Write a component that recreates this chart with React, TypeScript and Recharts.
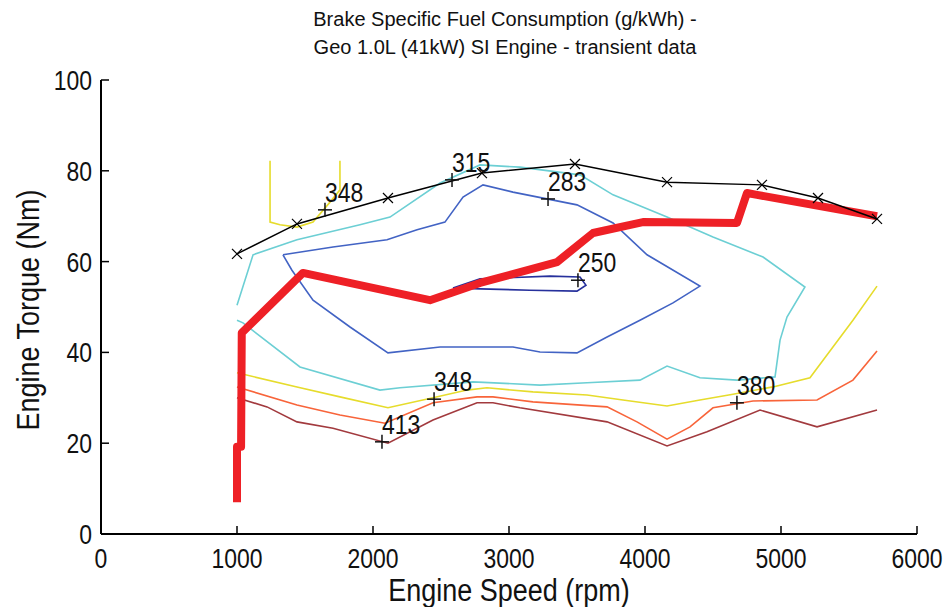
import { ComposedChart, Line, Scatter, XAxis, YAxis } from "recharts";

const FONT = '"Liberation Sans", Arial, sans-serif';
// the fonts here are condensed, so text is squeezed horizontally
const SQUEEZE = 0.82;

const speedTicks = [0, 1000, 2000, 3000, 4000, 5000, 6000];
const torqueTicks = [0, 20, 40, 60, 80, 100];

// BSFC iso-lines, points are [rpm, Nm]
const bsfc250: [number, number][] = [
  [2588, 54.2], [2787, 56.2], [3301, 56.8], [3522, 56.6], [3566, 54.8],
  [3500, 53.5], [3154, 53.7], [2787, 54.0], [2588, 54.2],
];

const bsfc283: [number, number][] = [
  [1338, 61.5], [1706, 63.2], [2103, 64.8], [2324, 67.0], [2529, 68.7],
  [2662, 74.2], [2809, 76.9], [3029, 75.3], [3500, 72.5], [3765, 68.5],
  [4015, 61.5], [4404, 54.6], [4206, 50.9], [3963, 47.1], [3721, 43.4],
  [3500, 39.9], [3228, 40.1], [3029, 41.2], [2493, 41.2], [2110, 39.9],
  [1831, 45.6], [1559, 51.5], [1404, 58.1], [1338, 61.5],
];

const bsfc315: [number, number][] = [
  [1000, 50.4], [1118, 61.5], [1441, 64.8], [1904, 68.1], [2125, 69.8],
  [2493, 77.3], [2787, 81.3], [3081, 80.8], [3522, 79.1], [3765, 74.7],
  [4162, 69.8], [4500, 65.4], [4868, 61.0], [5176, 54.4], [5044, 47.8],
  [4993, 42.7], [4956, 34.6], [4676, 33.9], [4404, 34.4], [4162, 37.0],
  [3963, 33.9], [3574, 33.3], [3228, 32.8], [2735, 33.5], [2199, 32.2],
  [2051, 31.7], [1463, 36.8], [1044, 46.5], [1000, 47.1],
];

const bsfc348Top: [number, number][] = [
  [1243, 82.2], [1243, 68.7], [1316, 68.1], [1441, 67.6], [1559, 68.7],
  [1684, 73.1], [1757, 75.8], [1757, 82.2],
];

const bsfc348: [number, number][] = [
  [1000, 35.5], [1441, 32.4], [1757, 30.2], [2110, 27.8], [2441, 30.0],
  [2691, 31.7], [2838, 32.2], [3176, 31.3], [3574, 30.6], [3838, 29.5],
  [4162, 28.2], [4404, 29.5], [4647, 30.8], [4941, 32.4], [5213, 34.4],
  [5382, 41.2], [5529, 47.1], [5706, 54.6],
];

const bsfc380: [number, number][] = [
  [1000, 32.4], [1441, 28.4], [1757, 26.2], [2088, 24.4], [2441, 28.9],
  [2765, 30.2], [2882, 30.2], [3176, 29.1], [3721, 28.0], [3941, 24.7],
  [4162, 20.9], [4331, 23.6], [4500, 27.8], [4794, 29.3], [5265, 29.5],
  [5529, 33.9], [5706, 40.3],
];

const bsfc413: [number, number][] = [
  [1000, 30.0], [1221, 28.0], [1441, 24.7], [1706, 23.3], [2110, 20.0],
  [2441, 25.1], [2765, 28.9], [2882, 28.9], [3081, 27.8], [3721, 24.7],
  [4162, 19.4], [4456, 22.5], [4846, 27.3], [5265, 23.6], [5706, 27.3],
];

// wide-open throttle torque
const maxTorque: [number, number][] = [
  [1000, 61.7], [1441, 68.3], [2110, 74.0], [2801, 79.5], [3485, 81.5],
  [4162, 77.5], [4860, 76.9], [5272, 74.0], [5706, 69.4],
];

// transient operating path
const drivePath: [number, number][] = [
  [1000, 7.0], [1000, 19.2], [1030, 19.2], [1035, 44.3], [1485, 57.5],
  [2419, 51.5], [2787, 55.3], [3353, 59.9], [3618, 66.3], [3985, 68.7],
  [4676, 68.5], [4750, 75.1], [4824, 74.7], [5706, 70.0],
];

const labelSpeed = [1647, 2581, 3287, 3507, 2449, 2066, 4676];
const labelTorque = [71.4, 78.0, 73.8, 55.9, 29.7, 20.3, 28.9];
const labelText = ["348", "315", "283", "250", "348", "413", "380"];

const toRows = (pts: [number, number][]) => pts.map(([rpm, torque]) => ({ rpm, torque }));

const contours = [
  { key: "c413", pts: bsfc413, color: "#a23a3e" },
  { key: "c380", pts: bsfc380, color: "#f8643a" },
  { key: "c348", pts: bsfc348, color: "#e6dc2c" },
  { key: "c348t", pts: bsfc348Top, color: "#e6dc2c" },
  { key: "c315", pts: bsfc315, color: "#6ccfd4" },
  { key: "c283", pts: bsfc283, color: "#4263c4" },
  { key: "c250", pts: bsfc250, color: "#26309c" },
];

const labelRows = labelText.map((text, i) => ({
  rpm: labelSpeed[i],
  torque: labelTorque[i],
  text,
}));

function Txt({ x, y, size, anchor = "start", sx = SQUEEZE, rotate = 0, children }: any) {
  return (
    <text
      transform={`translate(${x},${y}) rotate(${rotate}) scale(${sx},1)`}
      textAnchor={anchor}
      fontSize={size}
      fontFamily={FONT}
      fill="#111"
    >
      {children}
    </text>
  );
}

function BottomTick({ x, y, payload }: any) {
  return (
    <g>
      <line x1={x} y1={y} x2={x} y2={y - 8} stroke="#000" strokeWidth={1.5} />
      <Txt x={x} y={y + 34} size={28} anchor="middle">
        {payload.value}
      </Txt>
    </g>
  );
}

function TopTick({ x, y }: any) {
  return <line x1={x} y1={y} x2={x} y2={y + 8} stroke="#000" strokeWidth={1.5} />;
}

function LeftTick({ x, y, payload }: any) {
  return (
    <g>
      <line x1={x} y1={y} x2={x + 8} y2={y} stroke="#000" strokeWidth={1.5} />
      <Txt x={x - 9} y={y + 10} size={28} anchor="end">
        {payload.value}
      </Txt>
    </g>
  );
}

function RightTick({ x, y }: any) {
  return <line x1={x} y1={y} x2={x - 8} y2={y} stroke="#000" strokeWidth={1.5} />;
}

function CrossDot({ cx, cy, index }: any) {
  const s = 5;
  return (
    <g key={`x-${index}`}>
      <line x1={cx - s} y1={cy - s} x2={cx + s} y2={cy + s} stroke="#000" strokeWidth={1.2} />
      <line x1={cx - s} y1={cy + s} x2={cx + s} y2={cy - s} stroke="#000" strokeWidth={1.2} />
    </g>
  );
}

function LevelMark({ cx, cy, payload }: any) {
  const s = 7;
  return (
    <g>
      <line x1={cx - s} y1={cy} x2={cx + s} y2={cy} stroke="#111" strokeWidth={1.5} />
      <line x1={cx} y1={cy - s} x2={cx} y2={cy + s} stroke="#111" strokeWidth={1.5} />
      <Txt x={cx} y={cy - 8} size={28}>
        {payload.text}
      </Txt>
    </g>
  );
}

export default function App() {
  return (
    <div
      style={{
        position: "absolute",
        left: 0,
        top: 0,
        width: 949,
        height: 607,
        background: "#fff",
        overflow: "hidden",
      }}
    >
      <div
        style={{
          position: "absolute",
          left: 0,
          width: 1010,
          top: 5,
          textAlign: "center",
          fontFamily: FONT,
          fontSize: 20,
          lineHeight: "28px",
          color: "#111",
        }}
      >
        <div>Brake Specific Fuel Consumption (g/kWh) -</div>
        <div>Geo 1.0L (41kW) SI Engine - transient data</div>
      </div>
      <ComposedChart width={949} height={607} margin={{ top: 80, right: 32, bottom: 0, left: 0 }}>
        <XAxis
          xAxisId="b"
          type="number"
          dataKey="rpm"
          domain={[0, 6000]}
          ticks={speedTicks}
          interval={0}
          height={73}
          tickSize={0}
          tickMargin={0}
          tickLine={false}
          tick={<BottomTick />}
          axisLine={{ stroke: "#000", strokeWidth: 2 }}
          label={{
            content: ({ viewBox }: any) => (
              <Txt
                x={viewBox.x + viewBox.width / 2}
                y={viewBox.y + 67}
                size={31}
                sx={0.87}
                anchor="middle"
              >
                Engine Speed (rpm)
              </Txt>
            ),
          }}
        />
        <XAxis
          xAxisId="t"
          orientation="top"
          type="number"
          dataKey="rpm"
          domain={[0, 6000]}
          ticks={speedTicks}
          interval={0}
          height={0}
          tickSize={0}
          tickMargin={0}
          tickLine={false}
          tick={<TopTick />}
          axisLine={{ stroke: "#000", strokeWidth: 2 }}
        />
        <YAxis
          yAxisId="l"
          type="number"
          dataKey="torque"
          domain={[0, 100]}
          ticks={torqueTicks}
          interval={0}
          width={101}
          tickSize={0}
          tickMargin={0}
          tickLine={false}
          tick={<LeftTick />}
          axisLine={{ stroke: "#000", strokeWidth: 2 }}
          label={{
            content: ({ viewBox }: any) => (
              <Txt
                x={viewBox.x + 39}
                y={viewBox.y + viewBox.height / 2 + 3}
                size={31}
                sx={0.87}
                rotate={-90}
                anchor="middle"
              >
                Engine Torque (Nm)
              </Txt>
            ),
          }}
        />
        <YAxis
          yAxisId="r"
          orientation="right"
          type="number"
          dataKey="torque"
          domain={[0, 100]}
          ticks={torqueTicks}
          interval={0}
          width={0}
          tickSize={0}
          tickMargin={0}
          tickLine={false}
          tick={<RightTick />}
          axisLine={{ stroke: "#000", strokeWidth: 2 }}
        />

        {contours.map((c) => (
          <Line
            key={c.key}
            xAxisId="b"
            yAxisId="l"
            data={toRows(c.pts)}
            dataKey="torque"
            type="linear"
            stroke={c.color}
            strokeWidth={1.6}
            dot={false}
            activeDot={false}
            isAnimationActive={false}
          />
        ))}

        <Line
          xAxisId="b"
          yAxisId="l"
          data={toRows(drivePath)}
          dataKey="torque"
          type="linear"
          stroke="#ee2026"
          strokeWidth={8}
          strokeLinejoin="round"
          dot={false}
          activeDot={false}
          isAnimationActive={false}
        />
        <Line
          xAxisId="b"
          yAxisId="l"
          data={toRows(maxTorque)}
          dataKey="torque"
          type="linear"
          stroke="#000"
          strokeWidth={1.5}
          dot={<CrossDot />}
          activeDot={false}
          isAnimationActive={false}
        />
        <Scatter
          xAxisId="b"
          yAxisId="l"
          data={labelRows}
          dataKey="torque"
          shape={<LevelMark />}
          isAnimationActive={false}
        />
      </ComposedChart>
    </div>
  );
}
